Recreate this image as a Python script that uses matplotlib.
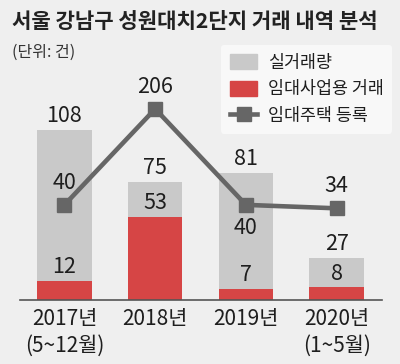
import matplotlib
matplotlib.use("Agg")
import matplotlib.pyplot as plt
from matplotlib.patches import Patch
from matplotlib.lines import Line2D

plt.rcParams['font.family'] = ['Liberation Sans Narrow', 'Noto Sans CJK KR', 'DejaVu Sans']

years = ["2017년\n(5~12월)", "2018년", "2019년", "2020년\n(1~5월)"]
total_deals = [108, 75, 81, 27]
rental_deals = [12, 53, 7, 8]
rental_regs = [40, 206, 40, 34]
reg_label_pos = ["up", "up", "down", "up"]

bg = "#efefef"
gray_bar = "#c9c9c9"
red_bar = "#d64545"
line_col = "#666666"
txt = "#1e1e1e"

fig = plt.figure(figsize=(4, 3.64), dpi=100, facecolor=bg)
ax = fig.add_axes([20 / 400, 64 / 364, 362 / 400, 220 / 364])
ax.set_facecolor(bg)
ax2 = ax.twinx()

x = list(range(len(years)))
ax.bar(x, total_deals, width=0.6, color=gray_bar, zorder=1)
ax.bar(x, rental_deals, width=0.6, color=red_bar, zorder=2)

for xi, t, r in zip(x, total_deals, rental_deals):
    ax.annotate(str(t), (xi, t), xytext=(0, 10), textcoords="offset points",
                ha="center", va="center", fontsize=15.5, color=txt)
    ax.annotate(str(r), (xi, r), xytext=(0, 10), textcoords="offset points",
                ha="center", va="center", fontsize=15.5, color=txt)

ax2.plot(x, rental_regs, color=line_col, lw=3.3, marker="s", markersize=10, zorder=5)
for xi, v, pos in zip(x, rental_regs, reg_label_pos):
    dy = 16 if pos == "up" else -17
    ax2.annotate(str(v), (xi, v), xytext=(0, dy), textcoords="offset points",
                 ha="center", va="center", fontsize=15.5, color=txt)

ax.set_xlim(-0.49, 3.5)
ax.set_ylim(0, 139.8)
ax2.set_ylim(-124.6, 256)

ax.set_xticks(x)
ax.set_xticklabels(years, fontsize=15, color=txt, linespacing=1.25)
ax.tick_params(axis="x", length=0, pad=6)
ax.set_yticks([])
ax2.set_yticks([])
for s in ["top", "left", "right"]:
    ax.spines[s].set_visible(False)
    ax2.spines[s].set_visible(False)
ax2.spines["bottom"].set_visible(False)
ax.spines["bottom"].set_color("#555555")
ax.spines["bottom"].set_linewidth(1.2)

handles = [Patch(color=gray_bar, label="실거래량"),
           Patch(color=red_bar, label="임대사업용 거래"),
           Line2D([], [], color=line_col, lw=3.3, marker="s", markersize=10, label="임대주택 등록")]
leg = fig.legend(handles=handles, loc="upper left", bbox_to_anchor=(221 / 400, 1 - 45 / 364),
                 borderaxespad=0, frameon=True, fancybox=True, facecolor="#f8f8f8",
                 edgecolor="none", framealpha=1, fontsize=12.5, handlelength=1.6,
                 handleheight=0.9, labelspacing=0.5, borderpad=0.5, handletextpad=0.6)
for t in leg.get_texts():
    t.set_color(txt)

fig.text(12 / 400, 1 - 22 / 364, "서울 강남구 성원대치2단지 거래 내역 분석",
         fontsize=15.2, fontweight="bold", color="#222222", va="center", ha="left")
fig.text(12 / 400, 1 - 52 / 364, "(단위: 건)", fontsize=11.5, color="#333333",
         va="center", ha="left")

fig.savefig("out.png", dpi=100, facecolor=bg)
